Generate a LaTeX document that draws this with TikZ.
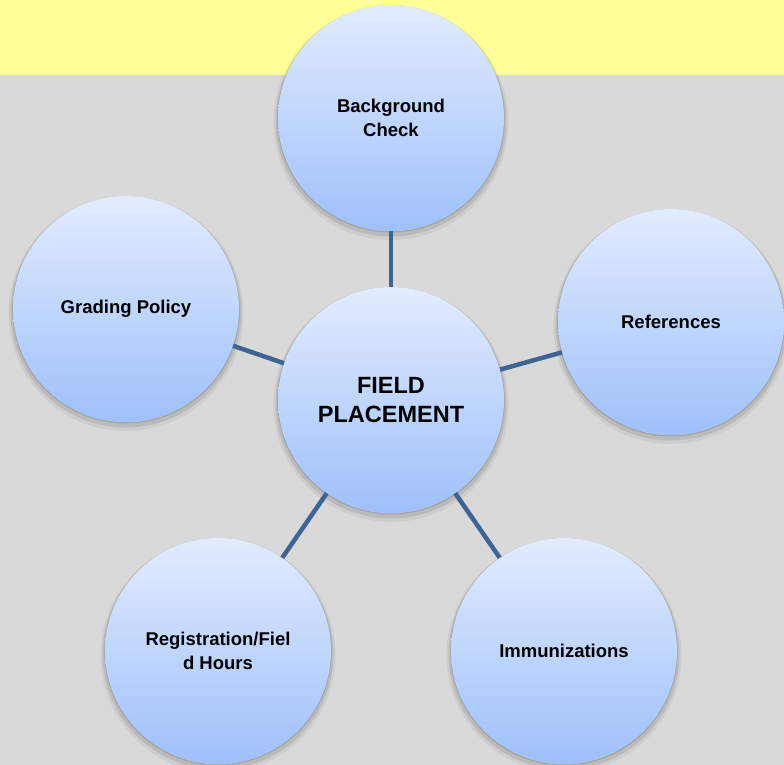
\documentclass[tikz,border=0pt]{standalone}
\usepackage{fontspec}
\setmainfont{Liberation Sans}
\definecolor{bandyellow}{RGB}{255,255,153}
\definecolor{paper}{RGB}{217,217,217}
\definecolor{bubtop}{RGB}{226,236,255}
\definecolor{bubbot}{RGB}{158,192,250}
\definecolor{linkblue}{RGB}{62,100,148}
\tikzset{
  bubble/.style={circle, minimum size=226pt, inner sep=0pt, align=center,
    preaction={draw=black, draw opacity=0.05, line width=9pt, transform canvas={yshift=-4.5pt}},
    preaction={draw=black, draw opacity=0.09, line width=5pt, transform canvas={yshift=-3pt}},
    preaction={draw=black, draw opacity=0.12, line width=1.4pt, transform canvas={yshift=-0.8pt}},
    top color=bubtop, bottom color=bubbot,
    font=\bfseries\fontsize{18.5}{23.5}\selectfont},
  hub/.style={bubble, font=\bfseries\fontsize{23.5}{29}\selectfont},
  link/.style={draw=linkblue, line width=4.5pt}
}
\begin{document}
\begin{tikzpicture}[x=1pt,y=-1pt]
\fill[paper] (0,0) rectangle (784,765);
\fill[bandyellow] (0,0) rectangle (784,75);
\useasboundingbox (0,0) rectangle (784,765);
\node[hub] (fp) at (391,400) {FIELD\\PLACEMENT};
\node[bubble] (bc) at (391,118) {Background\\Check};
\node[bubble] (ref) at (671,322) {References};
\node[bubble] (gp) at (126,309) {Grading Policy};
\node[bubble] (reg) at (218,651) {Registration/Fiel\\d Hours};
\node[bubble] (imm) at (564,651) {Immunizations};
\draw[link] (fp) -- (bc);
\draw[link] (fp) -- (ref);
\draw[link] (fp) -- (gp);
\draw[link] (fp) -- (reg);
\draw[link] (fp) -- (imm);
\end{tikzpicture}
\end{document}
